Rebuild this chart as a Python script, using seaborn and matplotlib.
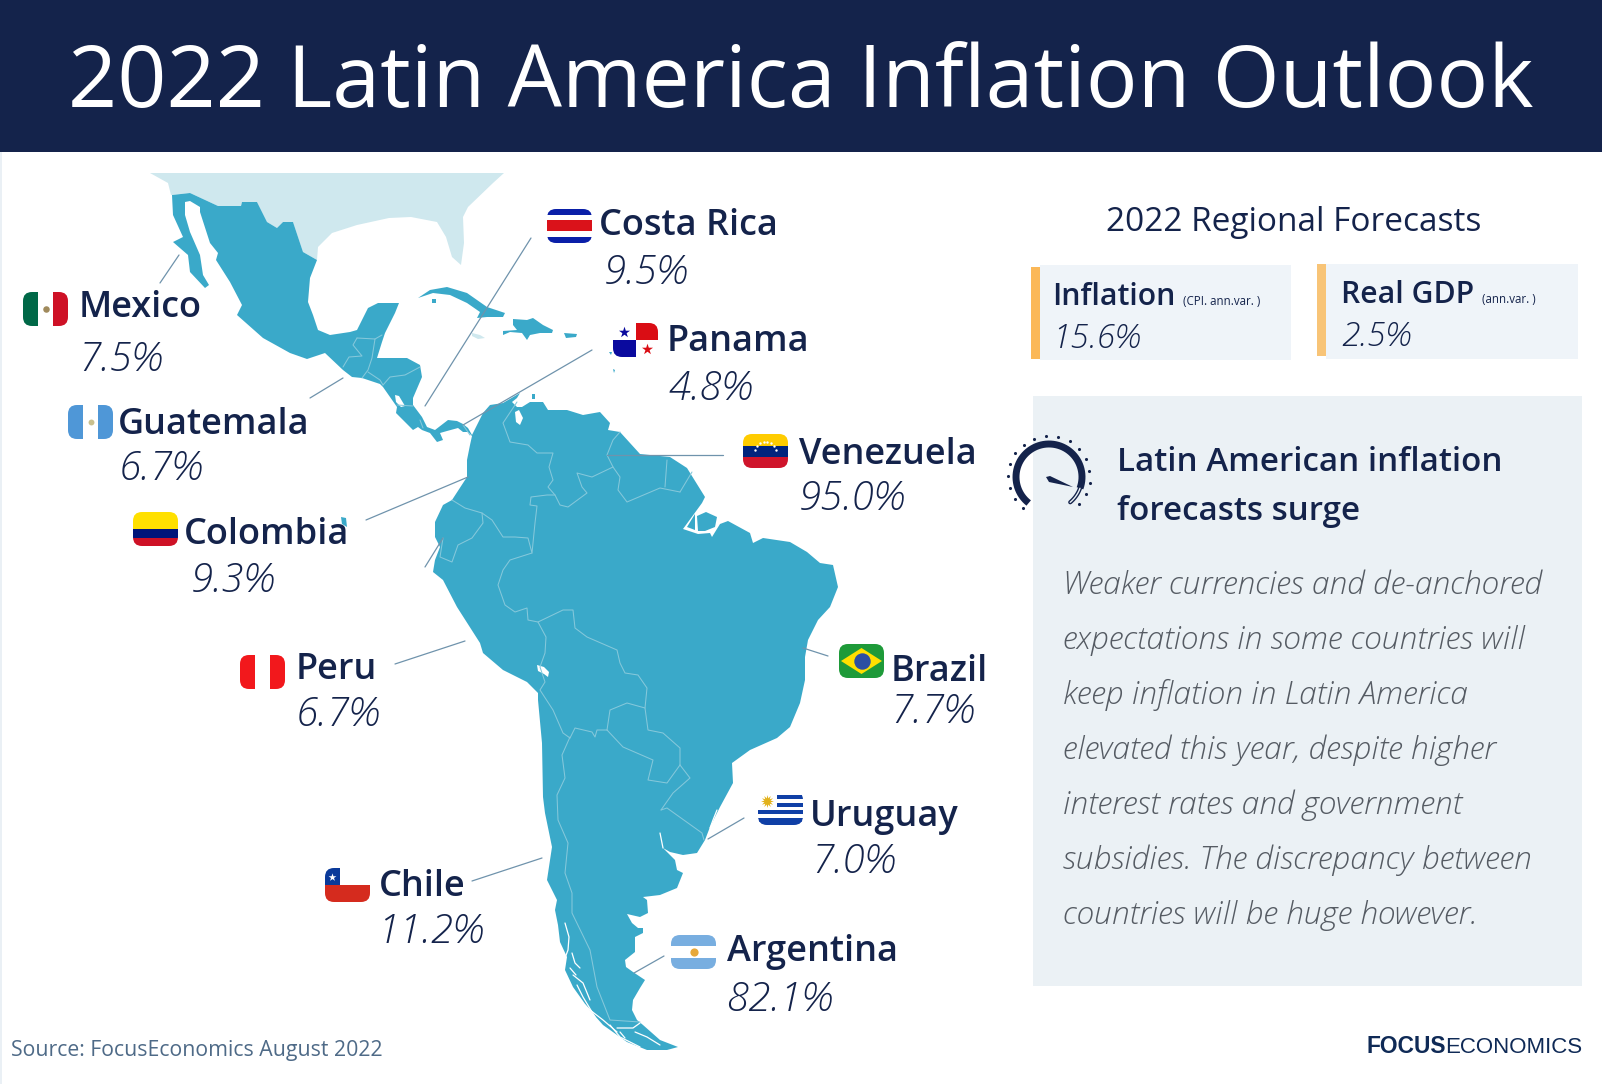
import numpy as np
import pandas as pd
import seaborn as sns
import matplotlib
matplotlib.use("Agg")
import matplotlib.pyplot as plt
from matplotlib.patches import FancyBboxPatch, Rectangle, Polygon

# ------------------ values ------------------
countries = ["Mexico", "Guatemala", "Colombia", "Peru", "Chile", "Costa Rica",
             "Panama", "Venezuela", "Brazil", "Uruguay", "Argentina"]
inflation = [7.5, 6.7, 9.3, 6.7, 11.2, 9.5, 4.8, 95.0, 7.7, 7.0, 82.1]
regional_names = ["Inflation", "Real GDP"]
regional_notes = ["(CPI. ann.var. )", "(ann.var. )"]
regional_values = [15.6, 2.5]
title = "2022 Latin America Inflation Outlook"
panel_title = ["Latin American inflation", "forecasts surge"]
body = ["Weaker currencies and de-anchored", "expectations in some countries will",
        "keep inflation in Latin America", "elevated this year, despite higher",
        "interest rates and government", "subsidies. The discrepancy between",
        "countries will be huge however."]

# ------------------ map outlines ------------------
usa = [(150,173),(504,173),(493,183),(468,207),(463,217),(464,243),(461,265),(452,257),(446,237),(437,222),
       (411,217),(389,218),(357,225),(332,233),(318,247),(317,260),(303,252),(298,237),(293,222),(283,222),(277,228),
       (267,222),(257,202),(242,202),(241,206),(218,206),(190,193),(171,195),(168,183)]
mainland = [(172,195),(190,193),(218,206),(241,206),(242,202),(257,202),(267,222),(277,228),(283,222),(293,222),
            (298,237),(303,252),(317,260),(310,278),(308,302),(313,315),(318,330),(330,335),(350,332),(357,330),
            (368,308),(378,303),(399,303),(395,313),(388,327),(385,333),(382,342),(377,358),(390,358),(407,358),
            (420,365),(422,377),(413,398),(413,405),(422,417),(427,427),(435,430),(448,420),(457,421),(463,424),
            (468,428),(472,435),(483,413),(490,405),(503,403),(520,393),(517,398),(512,402),(517,407),(522,407),
            (530,402),(543,402),(548,410),(567,410),(583,415),(600,412),(610,423),(608,430),(620,432),
            (630,443),(640,454),(670,457),(687,468),(705,497),(702,503),(683,529),(698,534),(710,533),(712,537),(720,524),
            (728,521),(750,533),(753,543),(763,538),(790,542),(807,552),(820,563),(833,565),(838,587),(830,607),
            (818,620),(808,640),(805,657),(805,680),(800,703),(790,727),(777,738),(750,750),(732,763),(733,783),
            (720,807),(710,827),(705,840),(697,853),(683,855),(670,852),(663,848),(675,860),(677,870),(683,873),
            (677,888),(660,895),(643,897),(647,900),(648,913),(640,917),(627,914),(632,923),(638,928),(643,928),(643,933),
            (635,937),(635,952),(625,960),(626,967),(633,972),(645,980),(640,988),(633,1000),(632,1010),(637,1020),
            (643,1025),(660,1040),(678,1047),(667,1050),(647,1050),(627,1042),(603,1025),(588,1008),(573,987),(565,970),
            (567,957),(560,942),(558,925),(555,910),(557,900),(547,880),(552,847),
            (545,813),(543,797),(542,743),(538,700),(538,693),(527,682),(503,670),(483,653),(480,643),(457,607),
            (443,580),(433,572),(435,560),(440,547),(435,537),(435,522),(443,505),(452,500),(467,477),(467,460),
            (470,445),(472,436),(468,432),(463,432),(458,428),(447,431),(440,433),(443,440),(437,442),(430,433),
            (422,430),(418,427),(413,430),(403,420),(396,413),(397,407),(383,387),(380,384),(362,378),(352,377),(343,370),
            (325,353),(307,359),(290,353),(263,338),(237,315),(242,305),(230,282),(216,260),(218,253),(210,243),
            (200,212),(200,207),(190,201),(185,202),(185,215),(190,232),(200,255),(203,275),(209,285),
            (205,288),(190,272),(188,255),(173,242),(183,237),(173,215)]
islands = [[(418,298),(430,290),(447,287),(467,293),(487,307),(505,313),(503,317),(487,317),(477,318),(480,312),(467,303),(450,295),(433,293)],
           [(513,319),(527,320),(533,318),(543,325),(553,330),(552,333),(540,333),(530,335),(527,340),(522,333),(510,332),(503,335),(503,331),(517,330),(513,325)],
           [(564,333),(577,334),(576,337),(566,338)],
           [(341,517),(346,518),(347,527),(342,524)],
           [(432,299),(436,299),(436,303),(432,303)],
           [(532,394),(535,394),(535,399),(532,399)],
           [(609,352),(612,352),(611,355)],
           [(613,369),(615,370),(614,373)],
           [(697,516),(706,512),(717,517),(715,527),(705,531),(698,531)],
           [(687,527),(695,514),(695,530)]]
jamaica = [(472,333),(480,335),(485,338),(478,339),(472,336)]
holes = [[(515,412),(519,410),(523,418),(520,425),(516,422)],
         [(537,665),(544,667),(549,672),(548,677),(544,674),(538,671)],
         [(395,395),(399,396),(405,406),(401,407),(396,402)]]
borders = {
 "co_ve": [(517,402),(503,423),(510,442),(528,445),(537,453),(553,453),(549,467),(553,480),(548,487),(555,495),(560,505),
           (568,507),(587,493),(582,487),(577,473),(592,477),(613,467),(607,455),(613,440),(620,432)],
 "co_pe": [(555,495),(547,495),(531,497),(530,505),(537,506),(535,523),(532,553),(528,538),(515,537),(503,537),(492,520),
           (482,513),(465,508),(452,500)],
 "ec_pe": [(482,513),(483,523),(472,538),(458,545),(452,562),(440,557),(443,538)],
 "pe_br": [(532,553),(510,560),(503,570),(498,585),(505,605),(515,612),(527,608),(528,620),(538,622),(563,610),(573,610),
           (575,628),(587,637),(617,650),(620,663),(625,673),(638,675),(647,688),(645,708),(648,730),(663,733),(680,748),(680,765)],
 "pe_bo": [(538,622),(546,637),(545,653),(540,667),(545,682),(540,690),(553,710),(563,733),(570,738)],
 "bo_ar": [(570,738),(575,728),(592,732),(595,737),(597,730),(607,730)],
 "bo_py": [(607,730),(610,710),(627,703),(645,708)],
 "py_ar": [(607,730),(623,747),(653,760),(648,780),(667,783),(680,765)],
 "ar_br": [(680,765),(690,778),(673,793),(661,810)],
 "uy_br": [(661,810),(667,808),(702,833),(704,840)],
 "cl_ar": [(570,737),(562,755),(565,778),(557,795),(558,820),(568,843),(565,873),(572,893),(572,913),(590,950),(597,987),
           (610,1020),(640,1022)],
 "gy_su": [(667,460),(665,487)],
 "su_gf": [(692,472),(680,492)],
 "gy_br": [(613,467),(620,477),(618,490),(627,502),(660,488),(680,492)],
 "mx_gt": [(357,338),(375,339),(372,358),(368,370),(362,378)],
 "bz": [(375,339),(382,335)],
 "gt_w": [(357,338),(353,345),(362,356),(349,357),(343,367)],
 "sv": [(368,372),(380,380),(383,385)],
 "hn": [(383,385),(390,377),(405,375),(420,367)],
 "cr": [(397,405),(413,406)],
 "pa": [(420,420),(423,428)],
 "pa_co": [(463,425),(470,435)],
}
white_lines = {
 "w1": [(565,923),(569,937),(568,950),(565,958)], "w2": [(572,953),(575,963),(580,968)],
 "w3": [(573,975),(583,983),(590,1000)], "w4": [(577,985),(583,997),(595,1017)],
 "w5": [(590,1010),(603,1020),(617,1032)], "w6": [(610,1025),(620,1037),(640,1047)],
 "w7": [(617,1028),(633,1028),(640,1023)], "w8": [(635,1032),(647,1037),(660,1045)],
 "w9": [(620,1032),(625,1038)], "w10": [(660,833),(663,848)], "w11": [(717,810),(713,820),(710,828)],
 "w12": [(585,1005),(592,1012)], "w13": [(600,1030),(612,1037)], "w14": [(570,968),(576,975)],
}
leaders = {
 "Mexico": [(179,255),(160,283)], "Guatemala": [(343,378),(310,398)], "Costa Rica": [(531,238),(425,406)],
 "Panama": [(592,350),(463,425)], "Colombia": [(468,477),(366,520)], "Ecuador": [(443,538),(425,567)],
 "Peru": [(465,641),(395,664)], "Venezuela": [(607,455),(723,455)], "Brazil": [(803,648),(828,656)],
 "Uruguay": [(708,839),(744,818)], "Argentina": [(634,973),(664,956)], "Chile": [(542,858),(472,881)],
}
def frame(d):
    return pd.DataFrame([(k, x, y) for k, pts in d.items() for x, y in pts], columns=["id", "x", "y"])

# name x, name baseline, value x, value baseline, flag left, flag top
pos = {"Mexico": (79,317,78,371,23,292), "Guatemala": (118,434,119,480,68,405), "Colombia": (184,544,191,592,133,512),
       "Peru": (296,679,296,726,240,655), "Chile": (379,896,377,943,325,868), "Costa Rica": (599,235,604,284,547,209),
       "Panama": (667,351,669,400,613,323), "Venezuela": (799,464,799,510,743,434), "Brazil": (891,681,890,723,839,644),
       "Uruguay": (810,826,811,873,758,791), "Argentina": (727,961,726,1011,671,935)}

NAVY = "#14234B"
MAP = "#3AA9C9"
PANEL = "#EBF1F5"
sns.set_theme(style="white", rc={"axes.facecolor": "white", "figure.facecolor": "white"})
plt.rcParams["font.family"] = ["Open Sans", "DejaVu Sans"]

fig = plt.figure(figsize=(16.02, 10.84), dpi=100)
ax = fig.add_axes([0, 0, 1, 1])

# map
ax.add_patch(Rectangle((0, 152), 2, 932, fc="#EAF0F5", ec="none"))
ax.add_patch(Polygon(usa, closed=True, fc="#CFE8EE", ec="none", zorder=1))
ax.add_patch(Polygon(jamaica, closed=True, fc="#CFE8EE", ec="none", zorder=1))
ax.add_patch(Polygon(mainland, closed=True, fc=MAP, ec="none", zorder=2))
for isl in islands:
    ax.add_patch(Polygon(isl, closed=True, fc=MAP, ec="none", zorder=2))
for h in holes:
    ax.add_patch(Polygon(h, closed=True, fc="white", ec="none", zorder=3))

sns.lineplot(data=frame(borders), x="x", y="y", units="id", estimator=None, sort=False,
             color="#85C8DB", lw=0.75, ax=ax, legend=False, zorder=4)
sns.lineplot(data=frame(white_lines), x="x", y="y", units="id", estimator=None, sort=False,
             color="white", lw=0.9, ax=ax, legend=False, zorder=4)
sns.lineplot(data=frame(leaders), x="x", y="y", units="id", estimator=None, sort=False,
             color="#6F93AC", lw=0.9, ax=ax, legend=False, zorder=5)

# header
ax.add_patch(Rectangle((0, 0), 1602, 152, fc=NAVY, ec="none", zorder=6))
ax.text(68, 107, title, color="white", fontsize=61.9, va="baseline", zorder=7)

# flags
def flag(name, left, top, w=45, h=34):
    clip = FancyBboxPatch((left + 8, top + 8), w - 16, h - 16, boxstyle="round,pad=8,rounding_size=9",
                          fc="white", ec="none", zorder=8)
    ax.add_patch(clip)
    def band(x0, y0, x1, y1, c):
        r = Rectangle((left + x0 * w, top + y0 * h), (x1 - x0) * w, (y1 - y0) * h, fc=c, ec="none", zorder=9)
        ax.add_patch(r)
        r.set_clip_path(clip)
    def dot(x, y, c, s=20, m="o", lw=0):
        ax.scatter([left + x * w], [top + y * h], s=s, c=c, marker=m, linewidths=lw, zorder=10)
    if name == "Mexico":
        band(0, 0, .33, 1, "#006847"); band(.67, 0, 1, 1, "#CE1126"); dot(.5, .5, "#A08A5C", 22)
    elif name == "Guatemala":
        band(0, 0, .33, 1, "#4F97D7"); band(.67, 0, 1, 1, "#4F97D7"); dot(.5, .5, "#C9C08E", 18)
    elif name == "Colombia":
        band(0, 0, 1, .5, "#FFE000"); band(0, .5, 1, .75, "#00157A"); band(0, .75, 1, 1, "#CE1126")
    elif name == "Peru":
        band(0, 0, .33, 1, "#F2181C"); band(.67, 0, 1, 1, "#F2181C")
    elif name == "Chile":
        band(0, .5, 1, 1, "#D52B1E"); band(0, 0, .33, .5, "#0A3A9A"); dot(.165, .25, "white", 35, "*")
    elif name == "Costa Rica":
        band(0, 0, 1, .17, "#0A1FA8"); band(0, .33, 1, .66, "#DA121A"); band(0, .83, 1, 1, "#0A1FA8")
    elif name == "Panama":
        band(.5, 0, 1, .5, "#DA0D14"); band(0, .5, .5, 1, "#0A0A9E")
        dot(.25, .25, "#0A0A9E", 70, "*"); dot(.75, .75, "#DA0D14", 70, "*")
    elif name == "Venezuela":
        band(0, 0, 1, .34, "#FFCC00"); band(0, .34, 1, .67, "#00247D"); band(0, .67, 1, 1, "#CF142B")
        for t in np.radians(np.linspace(200, 340, 8)):
            dot(.5 + .24 * np.cos(t), .62 + .4 * np.sin(t), "white", 3)
    elif name == "Brazil":
        band(0, 0, 1, 1, "#1E9A39")
        ax.add_patch(Polygon([(left + 2, top + h / 2), (left + w / 2, top + 4), (left + w - 2, top + h / 2), (left + w / 2, top + h - 4)],
                             closed=True, fc="#FFDF00", ec="none", zorder=9))
        dot(.5, .5, "#2B4FA3", 140)
    elif name == "Uruguay":
        for i in range(4):
            x0 = .42 if i < 2 else 0
            band(x0, .13 + i * .22, 1, .24 + i * .22, "#0F3FA6")
        band(0, .86, 1, 1, "#0F3FA6")
        dot(.2, .3, "#E2B21C", 85, (12, 1, 0))
    elif name == "Argentina":
        band(0, 0, 1, .33, "#78AEE0"); band(0, .67, 1, 1, "#78AEE0"); dot(.5, .5, "#E7A83A", 35)

for c, v in zip(countries, inflation):
    nx, ny, vx, vy, fx, fy = pos[c]
    flag(c, fx, fy)
    ax.text(nx, ny, c, color=NAVY, fontsize=26, fontweight=600, va="baseline", zorder=11)
    ax.text(vx, vy, f"{v:.1f}%", color=NAVY, fontsize=29, fontstyle="italic", fontweight=300, va="baseline", zorder=11)

# right: regional forecasts
ax.text(1106, 231, "2022 Regional Forecasts", color=NAVY, fontsize=24, va="baseline", zorder=11)
ax.add_patch(Rectangle((1040, 265), 251, 95, fc="#EFF4F9", ec="none", zorder=6))
ax.add_patch(Rectangle((1326, 264), 252, 95, fc="#EFF4F9", ec="none", zorder=6))
ax.add_patch(Rectangle((1031, 267), 9, 92, fc="#FBB858", ec="none", zorder=7))
ax.add_patch(Rectangle((1317, 264), 9, 92, fc="#F8C477", ec="none", zorder=7))
card = [(1052, 305, 1183, 1052, 348), (1341, 303, 1482, 1341, 346)]
for (nx, ny, sx, vx, vy), n, note, v in zip(card, regional_names, regional_notes, regional_values):
    ax.text(nx, ny, n, color=NAVY, fontsize=21.7, fontweight=600, va="baseline", zorder=11)
    ax.text(sx, ny, note, color=NAVY, fontsize=8.3, va="baseline", zorder=11)
    ax.text(vx, vy, f"{v:.1f}%", color=NAVY, fontsize=24, fontstyle="italic", fontweight=300, va="baseline", zorder=11)

# text panel
ax.add_patch(Rectangle((1033, 396), 549, 590, fc=PANEL, ec="none", zorder=6))
for line, y in zip(panel_title, [471, 520]):
    ax.text(1117, y, line, color=NAVY, fontsize=23.9, fontweight=600, va="baseline", zorder=11)
for line, y in zip(body, [594, 649, 704, 759, 814, 869, 924]):
    ax.text(1063, y, line, color="#555B63", fontsize=22.85, fontstyle="italic", fontweight=300, va="baseline", zorder=11)

# gauge icon
cx, cy = 1049, 477
t = np.radians(np.linspace(128, 360 + 20, 60))
ax.plot(cx + 33 * np.cos(t), cy + 33 * np.sin(t), color=NAVY, lw=5, solid_capstyle="butt", zorder=12)
t2 = np.radians(np.linspace(20, 50, 12))
ax.plot(cx + 33 * np.cos(t2), cy + 33 * np.sin(t2), color=NAVY, lw=3, zorder=12)
ax.plot(cx + 33 * np.cos(t2), cy + 33 * np.sin(t2), color=PANEL, lw=1, zorder=13)
t3 = np.radians(np.arange(-230, 51, 17))
ax.scatter(cx + 41 * np.cos(t3), cy + 41 * np.sin(t3), s=5, c=NAVY, linewidths=0, zorder=12)
ax.add_patch(Polygon([(1046, 477), (1049, 482), (1073, 487), (1050, 476)], closed=True, fc=NAVY, ec="none", zorder=12))

# footer
ax.text(11, 1056, "Source: FocusEconomics August 2022", color="#4E6A87", fontsize=15.3, va="baseline", zorder=11)
logo = ["Liberation Sans", "DejaVu Sans"]
ax.text(1366, 1053, "FOCUS", color="#0F2A56", fontsize=16.4, fontweight="bold", family=logo, va="baseline", zorder=11)
ax.text(1445, 1053, "ECONOMICS", color="#0F2A56", fontsize=16, family=logo, va="baseline", zorder=11)

ax.set_xlim(0, 1602)
ax.set_ylim(1084, 0)
ax.axis("off")
fig.savefig("out.png", dpi=100)
